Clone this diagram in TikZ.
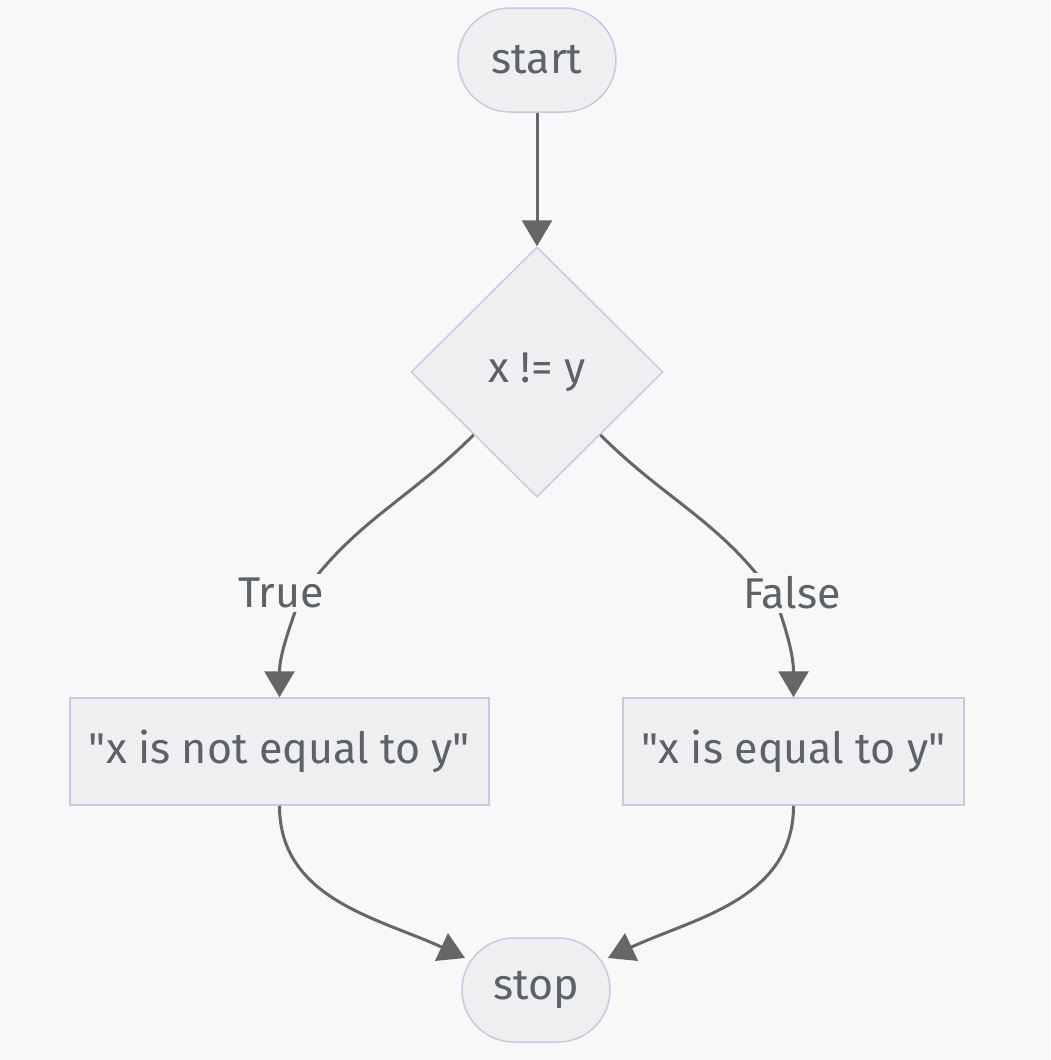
\documentclass[tikz,border=0pt]{standalone}
\usepackage{fontspec}
\setmainfont{Fira Sans}[Ligatures=TeXOff]
\usetikzlibrary{shapes.geometric,shapes.misc,arrows.meta}
\definecolor{bgc}{HTML}{F8F8F8}
\definecolor{nodefill}{HTML}{EFEFF1}
\definecolor{nodeline}{HTML}{CCC8E4}
\definecolor{txt}{HTML}{5B6268}
\definecolor{edgec}{HTML}{666666}
\begin{document}
\begin{tikzpicture}[x=1pt,y=-1pt,
  base/.style={draw=nodeline, line width=1.5pt, fill=nodefill, text=txt, inner sep=0pt,
    font=\fontsize{43}{50}\selectfont},
  term/.style={base, rounded rectangle, minimum height=104pt},
  decision/.style={base, diamond, aspect=1, minimum width=252pt, minimum height=250pt},
  proc/.style={base, rectangle, minimum height=107pt},
  edge/.style={draw=edgec, line width=3pt, -{Triangle[length=26pt,width=30pt]}},
  elabel/.style={fill=bgc, text=txt, inner sep=4pt, font=\fontsize{43}{50}\selectfont}]
\fill[bgc] (0,0) rectangle (1050,1060);
\useasboundingbox (0,0) rectangle (1050,1060);

\node[term, minimum width=158pt] (start) at (537,60) {start};
\node[decision] (d) at (537,372) {x != y};
\node[proc, minimum width=419pt] (l) at (279.5,751.5) {"x is not equal to y"};
\node[proc, minimum width=341pt] (r) at (793.5,751.5) {"x is equal to y"};
\node[term, minimum width=148pt] (stop) at (536,990) {stop};

\coordinate (tw) at (300,598);
\coordinate (fw) at (775,598);

\draw[edge] (start.south) -- (d.north);
\draw[edge] (d.south west) to[out=-135,in=55] (tw) to[out=-110,in=90] (l.north);
\draw[edge] (d.south east) to[out=-45,in=125] (fw) to[out=-70,in=90] (r.north);
\draw[edge] (l.south) to[out=-90,in=155] ([shift={(-71,-32)}]stop.center);
\draw[edge] (r.south) to[out=-90,in=25] ([shift={(72,-32)}]stop.center);

\node[elabel] (tl) at (281,593) {True};
\node[elabel] (fl) at (792,593) {False};
\end{tikzpicture}
\end{document}
